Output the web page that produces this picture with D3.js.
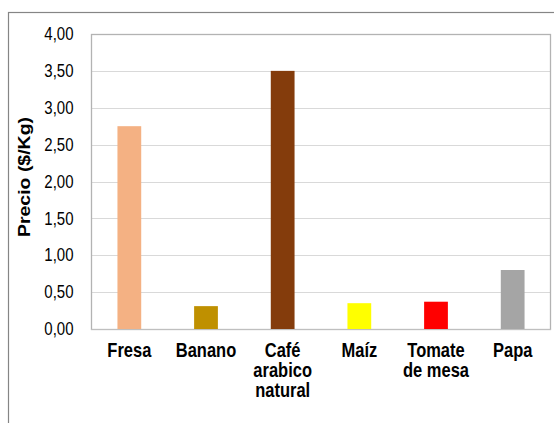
<!DOCTYPE html>
<html>
<head>
<meta charset="utf-8">
<script src="https://cdn.jsdelivr.net/npm/d3@7"></script>
<style>
  html, body { margin: 0; padding: 0; background: #fff; }
  svg { display: block; }
  text { font-family: "Liberation Sans", Arial, sans-serif; fill: #000; }
</style>
</head>
<body>
<svg id="chart" width="554" height="423"></svg>
<script>
// Precio por producto ($/Kg)
const categories = ["Fresa", "Banano", "Café\narabico\nnatural", "Maíz", "Tomate\nde mesa", "Papa"];
const prices = [2.75, 0.31, 3.50, 0.35, 0.37, 0.80];
const barColors = ["#F4B183", "#BF9000", "#843C0C", "#FFFF00", "#FF0000", "#A5A5A5"];
const yTicks = [0, 0.5, 1, 1.5, 2, 2.5, 3, 3.5, 4];
const yTitle = "Precio ($/Kg)";

const svg = d3.select("#chart");
const stretch = 1.18; // vertical text proportion

// outer frame
svg.append("rect")
  .attr("x", 8.5).attr("y", 12.5)
  .attr("width", 600).attr("height", 500)
  .attr("fill", "none").attr("stroke", "#858585").attr("stroke-width", 1.2);

const plot = { left: 91, right: 551, top: 34, bottom: 329 };

const x = d3.scaleBand()
  .domain(d3.range(categories.length))
  .range([plot.left, plot.right])
  .paddingInner(0.69).paddingOuter(0.345);

const y = d3.scaleLinear().domain([0, 4]).range([plot.bottom, plot.top]);

// gridlines
svg.append("g")
  .selectAll("line")
  .data(yTicks.slice(1))
  .join("line")
  .attr("x1", plot.left).attr("x2", plot.right)
  .attr("y1", d => Math.round(y(d)) + 0.5).attr("y2", d => Math.round(y(d)) + 0.5)
  .attr("stroke", "#d9d9d9").attr("stroke-width", 1);

// plot border
svg.append("rect")
  .attr("x", plot.left + 0.5).attr("y", plot.top + 0.5)
  .attr("width", plot.right - plot.left - 1).attr("height", plot.bottom - plot.top)
  .attr("fill", "none").attr("stroke", "#b3b3b3").attr("stroke-width", 1.3);

// bars
svg.append("g")
  .selectAll("rect")
  .data(prices)
  .join("rect")
  .attr("x", (d, i) => x(i))
  .attr("width", x.bandwidth())
  .attr("y", d => y(d))
  .attr("height", d => y(0) - y(d))
  .attr("fill", (d, i) => barColors[i]);

// baseline axis
svg.append("line")
  .attr("x1", plot.left).attr("x2", plot.right)
  .attr("y1", plot.bottom + 0.5).attr("y2", plot.bottom + 0.5)
  .attr("stroke", "#bfbfbf").attr("stroke-width", 1.2);

// y tick labels
const fmt = d => d.toFixed(2).replace(".", ",");
svg.append("g")
  .selectAll("g")
  .data(yTicks)
  .join("g")
  .attr("transform", d => `translate(73.5,${y(d)}) scale(1,${stretch})`)
  .append("text")
  .attr("text-anchor", "end")
  .attr("dy", "0.35em")
  .style("font-size", "15px")
  .text(fmt);

// category labels
const catG = svg.append("g")
  .selectAll("g")
  .data(categories)
  .join("g")
  .attr("transform", (d, i) => `translate(${x(i) + x.bandwidth() / 2},357) scale(1,${stretch})`);

catG.append("text")
  .attr("text-anchor", "middle")
  .style("font-size", "16.5px")
  .style("font-weight", "bold")
  .selectAll("tspan")
  .data(d => d.split("\n"))
  .join("tspan")
  .attr("x", 0)
  .attr("y", (d, i) => i * 17)
  .text(d => d);

// y axis title
svg.append("g")
  .attr("transform", `translate(30,177) rotate(-90) scale(${stretch},1)`)
  .append("text")
  .attr("text-anchor", "middle")
  .style("font-size", "16.5px")
  .style("font-weight", "bold")
  .text(yTitle);
</script>
</body>
</html>
